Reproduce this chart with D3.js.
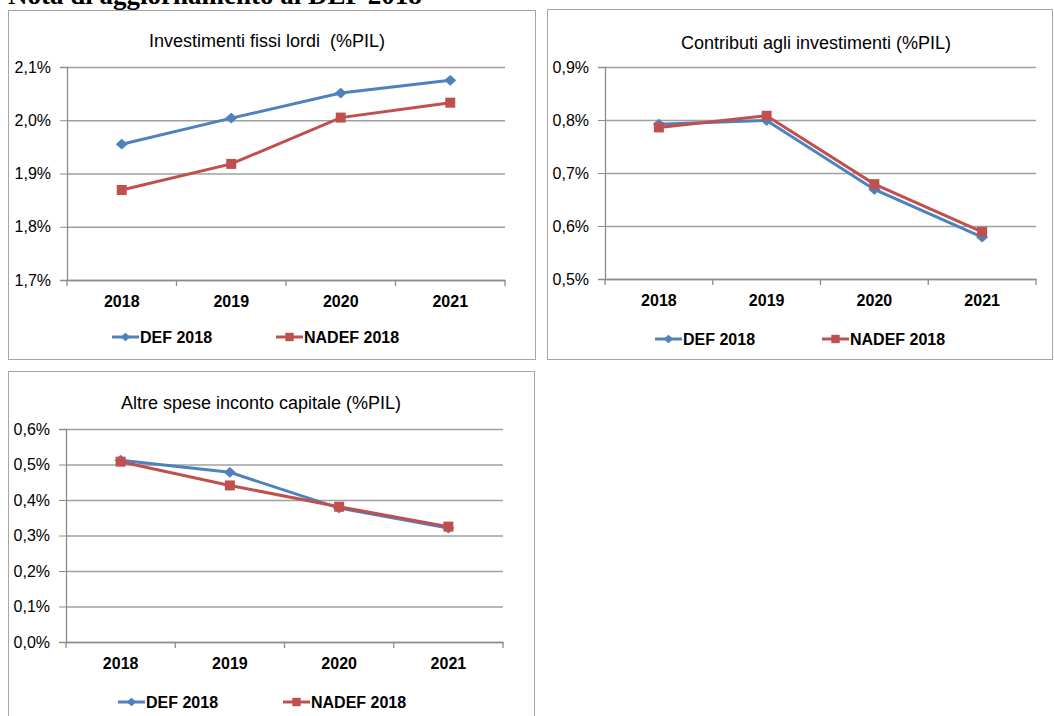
<!DOCTYPE html>
<html>
<head>
<meta charset="utf-8">
<script src="https://cdn.jsdelivr.net/npm/d3@7"></script>
<style>
    body { margin: 0; background: #fff; }
    svg text { font-family: "Liberation Sans", Arial, sans-serif; fill: #000; }
</style>
</head>
<body>
<script>
// data
var years = ["2018", "2019", "2020", "2021"],
    seriesNames = ["DEF 2018", "NADEF 2018"],
    investDef = [1.955, 2.004, 2.051, 2.075],
    investNadef = [1.869, 1.918, 2.005, 2.033],
    investTicks = [1.7, 1.8, 1.9, 2.0, 2.1],
    contribDef = [0.792, 0.799, 0.669, 0.579],
    contribNadef = [0.786, 0.808, 0.679, 0.589],
    contribTicks = [0.5, 0.6, 0.7, 0.8, 0.9],
    altreDef = [0.512, 0.478, 0.377, 0.321],
    altreNadef = [0.508, 0.441, 0.381, 0.325],
    altreTicks = [0.0, 0.1, 0.2, 0.3, 0.4, 0.5, 0.6];

var width = 1054,
    height = 716,
    colors = ["#4f81bd", "#c0504d"];

// italian number format: 2,1%
var it = d3.formatLocale({ decimal: ",", thousands: ".", grouping: [3], currency: ["€", ""] }),
    pct = function(d) { return it.format(".1f")(d) + "%"; };

var figure = d3.select("body")
    .append("svg")
        .attr("width", width)
        .attr("height", height);

// heading of the page, cut off at the top
figure.append("text")
    .attr("x", 8)
    .attr("y", 4)
    .style("font-family", "'Liberation Serif', 'Times New Roman', serif")
    .style("font-weight", "bold")
    .style("font-size", "27px")
    .text("Nota di aggiornamento al DEF 2018");

function marker(g, type, cx, cy, s) {
    if (type == 0) {
        g.append("path")
            .attr("d", "M" + cx + "," + (cy - s * 0.9) + "L" + (cx + s) + "," + cy +
                "L" + cx + "," + (cy + s * 0.9) + "L" + (cx - s) + "," + cy + "Z")
            .attr("fill", colors[0]);
    } else {
        g.append("rect")
            .attr("x", cx - s)
            .attr("y", cy - s)
            .attr("width", 2 * s)
            .attr("height", 2 * s)
            .attr("fill", colors[1]);
    }
}

function drawPanel(p) {
    var g = figure.append("g");

    // frame
    g.append("rect")
        .attr("x", p.box[0] + 0.5)
        .attr("y", p.box[1] + 0.5)
        .attr("width", p.box[2] - p.box[0])
        .attr("height", p.box[3] - p.box[1])
        .attr("fill", "#fff")
        .attr("stroke", "#a6a6a6");

    g.append("text")
        .attr("x", p.titleX)
        .attr("y", p.titleY)
        .attr("text-anchor", "middle")
        .style("font-size", "18px")
        .style("white-space", "pre")
        .text(p.title);

    var x = d3.scaleBand().domain(years).range([p.plot[0], p.plot[2]]),
        y = d3.scaleLinear().domain(d3.extent(p.ticks)).range([p.plot[3], p.plot[1]]);

    // gridlines
    g.append("g")
        .attr("transform", "translate(" + p.plot[0] + ",0)")
        .call(d3.axisLeft(y).tickValues(p.ticks).tickSize(-(p.plot[2] - p.plot[0])).tickFormat(""))
        .call(function(a) {
            a.select(".domain").remove();
            a.selectAll("line").attr("stroke", "#a0a0a0").attr("stroke-width", 1.3);
        });

    // add the axes
    g.append("g")
        .attr("transform", "translate(" + p.plot[0] + ",0)")
        .call(d3.axisLeft(y).tickValues(p.ticks).tickSize(7).tickPadding(9).tickFormat(pct))
        .call(function(a) {
            a.select(".domain").attr("stroke", "#8c8c8c").attr("stroke-width", 1.3);
            a.selectAll("line").attr("stroke", "#8c8c8c");
            a.selectAll("text").style("font-size", "16px").style("font-family", "'Liberation Sans', Arial, sans-serif");
        });

    g.append("g")
        .attr("transform", "translate(0," + p.plot[3] + ")")
        .call(d3.axisBottom(x).tickSize(0).tickPadding(16))
        .call(function(a) {
            a.select(".domain").attr("stroke", "#8c8c8c").attr("stroke-width", 1.3);
            a.selectAll("text").style("font-size", "16px").style("font-weight", "bold")
                .style("font-family", "'Liberation Sans', Arial, sans-serif");
        });

    // ticks between the categories
    g.append("g")
        .selectAll("line")
        .data(years.concat(["end"]))
        .enter()
        .append("line")
        .attr("x1", function(d) { return d == "end" ? x(years[years.length - 1]) + x.bandwidth() : x(d); })
        .attr("x2", function(d) { return d == "end" ? x(years[years.length - 1]) + x.bandwidth() : x(d); })
        .attr("y1", p.plot[3])
        .attr("y2", p.plot[3] + 6)
        .attr("stroke", "#8c8c8c")
        .attr("stroke-width", 1.3);

    // the two lines with their markers
    var line = d3.line()
        .x(function(d, i) { return x(years[i]) + x.bandwidth() / 2; })
        .y(function(d) { return y(d); });

    [p.def, p.nadef].forEach(function(vals, k) {
        g.append("path")
            .attr("d", line(vals))
            .attr("fill", "none")
            .attr("stroke", colors[k])
            .attr("stroke-width", 3);
        vals.forEach(function(v, i) {
            marker(g, k, x(years[i]) + x.bandwidth() / 2, y(v), k == 0 ? 6 : 5);
        });
    });

    // legend
    seriesNames.forEach(function(name, k) {
        var lx = p.legend[k];
        g.append("line")
            .attr("x1", lx)
            .attr("x2", lx + 27)
            .attr("y1", p.legendY)
            .attr("y2", p.legendY)
            .attr("stroke", colors[k])
            .attr("stroke-width", 3);
        marker(g, k, lx + 13.5, p.legendY, k == 0 ? 4.8 : 4.2);
        g.append("text")
            .attr("x", lx + 28)
            .attr("y", p.legendY + 6)
            .style("font-size", "16px")
            .style("font-weight", "bold")
            .text(name);
    });
}

drawPanel({
    box: [8, 10, 535, 359], plot: [67, 67, 505, 280],
    title: "Investimenti fissi lordi  (%PIL)", titleX: 267, titleY: 47,
    ticks: investTicks, def: investDef, nadef: investNadef,
    legend: [112, 276], legendY: 337
});

drawPanel({
    box: [547, 9, 1052, 359], plot: [605, 67, 1036, 279],
    title: "Contributi agli investimenti (%PIL)", titleX: 816, titleY: 49,
    ticks: contribTicks, def: contribDef, nadef: contribNadef,
    legend: [655, 822], legendY: 339
});

drawPanel({
    box: [8, 371, 534, 730], plot: [66, 429, 503, 642],
    title: "Altre spese inconto capitale (%PIL)", titleX: 261, titleY: 409,
    ticks: altreTicks, def: altreDef, nadef: altreNadef,
    legend: [118, 283], legendY: 702
});
</script>
</body>
</html>
